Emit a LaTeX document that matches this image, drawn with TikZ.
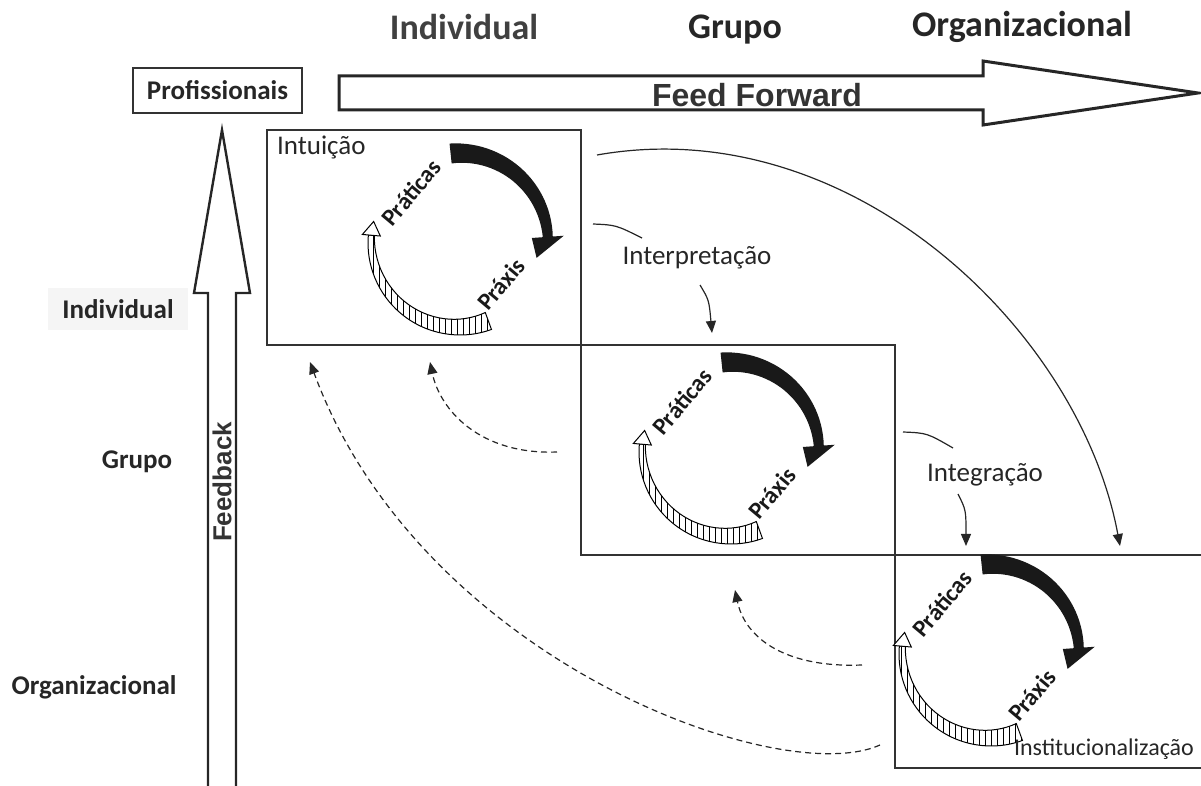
\documentclass[tikz,border=0pt]{standalone}
\usepackage{fontspec}
\setmainfont{Carlito}
\newfontfamily\arialfont{Liberation Sans}
\usetikzlibrary{arrows.meta,patterns}

\begin{document}
\begin{tikzpicture}
                [
                x=0.5pt,y=-0.5pt,
                caixa/.style={draw=black!80,line width=0.75pt},
                titulo/.style={font=\fontsize{18}{20}\selectfont\bfseries,text=black!85},
                nivel/.style={font=\fontsize{13.5}{15}\selectfont\bfseries,text=black!85},
                etapa/.style={font=\fontsize{13.5}{15}\selectfont,text=black!85},
                pratica/.style={font=\fontsize{12}{14}\selectfont\bfseries,text=black!90,inner sep=1pt},
                seta/.style={font=\arialfont\bfseries\fontsize{16}{18}\selectfont,text=black!80},
                linha/.style={line width=0.6pt,black!85},
                edge/.style={linha,->,> = {Triangle[length=6pt,width=5pt]}},
                volta/.style={edge,dash pattern=on 3pt off 2pt},
                ciclo/.pic={
                  \begin{scope}[yscale=-1]
                    \fill[black!90] (96:100)
                      -- plot[domain=96:4,samples=30] (\x:{93+7*(\x-4)/92})
                      -- (4:104) -- (-11:78) -- (4:72)
                      -- plot[domain=4:96,samples=30] (\x:{83-3*(\x-4)/92}) -- cycle;
                    \draw[line width=0.5pt,pattern=vertical lines] (-70:92)
                      arc[start angle=-70,end angle=-185,radius=92]
                      -- plot[domain=-185:-70,samples=30] (\x:{86-12*(\x+185)/115}) -- cycle;
                    \filldraw[fill=white,line width=0.5pt] (-185:98) -- (-194:89) -- (-185:80) -- cycle;
                    \node[pratica,rotate=50] at (134:70) {Práticas};
                    \node[pratica,rotate=50] at (-45:58) {Práxis};
                  \end{scope}
                }
                ]
            \useasboundingbox (0,0) rectangle (1201,786);
            % niveis no topo
            \node[titulo,text=black!75] (tind) at (464,27) {Individual};
            \node[titulo] (tgru) at (735,30) {Grupo};
            \node[titulo] (torg) at (1022,27) {Organizacional};
            \node[nivel,draw=black!80,line width=0.6pt,minimum width=84.5pt,minimum height=22.5pt] (prof) at (217.5,90.5) {Profissionais};
            % feed forward
            \draw[line width=1.5pt,black!85] (339,76) -- (983,76) -- (983,61) -- (1198,93)
              -- (983,125) -- (983,110) -- (339,110) -- cycle;
            \node[seta] (ff) at (757,95) {Feed Forward};
            % feedback
            \draw[line width=1.2pt,black!85] (208,786) -- (208,293) -- (194,293) -- (222,130)
              -- (250,293) -- (236,293) -- (236,786);
            \node[seta,font=\arialfont\bfseries\fontsize{13}{15}\selectfont,rotate=90] (fb) at (222,482) {Feedback};
            % niveis a esquerda
            \node[nivel,fill=black!4,minimum width=70pt,minimum height=21pt] (lind) at (118,309) {Individual};
            \node[nivel] (lgru) at (137,462) {Grupo};
            \node[nivel] (lorg) at (94,687) {Organizacional};
            % caixas
            \draw[caixa] (267,130) rectangle (581,345);
            \draw[caixa] (581,345) rectangle (895,555);
            \draw[caixa] (1201,555) -- (895,555) -- (895,768) -- (1201,768);
            \pic at (460,243) {ciclo};
            \pic at (731,452) {ciclo};
            \pic at (991,654) {ciclo};
            \node[etapa,anchor=west] (intu) at (270,147) {Intuição};
            \node[etapa] (interp) at (697,258) {Interpretação};
            \node[etapa] (integ) at (985,475) {Integração};
            \node[etapa,font=\fontsize{12}{14}\selectfont] (inst) at (1104,749) {Institucionalização};
            % ligacoes
            \coordinate (a1) at (593,224);
            \coordinate (a2) at (642,238);
            \coordinate (a3) at (700,285);
            \coordinate (a4) at (712,333);
            \draw[linha] (a1) .. controls (616,225) .. (a2);
            \draw[edge] (a3) .. controls (709,300) .. (a4);
            \coordinate (b1) at (903,432);
            \coordinate (b2) at (953,448);
            \coordinate (b3) at (958,494);
            \coordinate (b4) at (966,546);
            \draw[linha] (b1) .. controls (927,433) .. (b2);
            \draw[edge] (b3) .. controls (966,510) .. (b4);
            \coordinate (c1) at (597,155);
            \coordinate (c2) at (1120,546);
            \draw[edge] (c1) .. controls (850,110) and (1080,330) .. (c2);
            % retorno
            \coordinate (d1) at (557,452);
            \coordinate (d2) at (430,362);
            \coordinate (d3) at (862,665);
            \coordinate (d4) at (735,590);
            \coordinate (d5) at (880,745);
            \coordinate (d6) at (310,362);
            \draw[volta] (d1) .. controls (480,455) and (440,410) .. (d2);
            \draw[volta] (d3) .. controls (785,668) and (745,638) .. (d4);
            \draw[volta] (d5) .. controls (780,790) and (420,660) .. (d6);
            \end{tikzpicture}
\end{document}
